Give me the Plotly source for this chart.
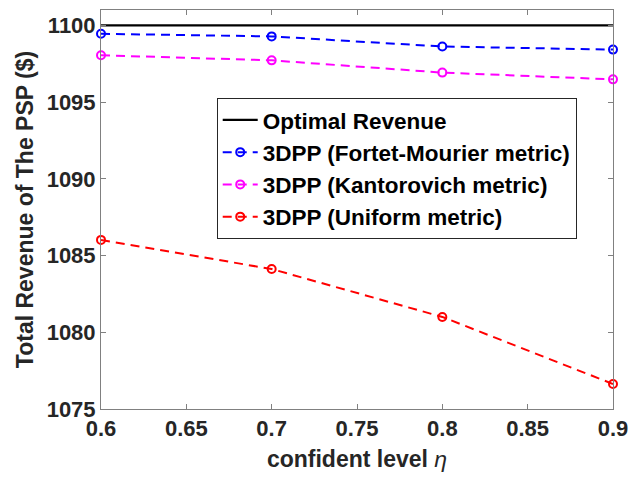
import plotly.graph_objects as go

# Confidence levels and revenue results
eta = [0.6, 0.7, 0.8, 0.9]
optimal_revenue = [1100, 1100, 1100, 1100]
fortet_mourier = [1099.45, 1099.28, 1098.62, 1098.42]
kantorovich = [1098.05, 1097.72, 1096.92, 1096.48]
uniform = [1086.02, 1084.12, 1081.0, 1076.63]

x_ticks = [0.6, 0.65, 0.7, 0.75, 0.8, 0.85, 0.9]
x_tick_text = ["0.6", "0.65", "0.7", "0.75", "0.8", "0.85", "0.9"]
y_ticks = [1075, 1080, 1085, 1090, 1095, 1100]

FONT = "Liberation Sans, Arial, sans-serif"
DASH = "9px,6px"

fig = go.Figure()
fig.add_trace(go.Scatter(
    x=eta, y=optimal_revenue, mode="lines", name="<b>Optimal Revenue</b>",
    line=dict(color="black", width=2.2),
))
series = [
    ("3DPP (Fortet-Mourier metric)", fortet_mourier, "#0000ff"),
    ("3DPP (Kantorovich metric)", kantorovich, "#ff00ff"),
    ("3DPP (Uniform metric)", uniform, "#ff0000"),
]
for name, vals, color in series:
    fig.add_trace(go.Scatter(
        x=eta, y=vals, mode="lines+markers", name=f"<b>{name}</b>",
        line=dict(color=color, width=2, dash=DASH),
        marker=dict(symbol="circle-open", size=8, color=color,
                    line=dict(width=2, color=color)),
        cliponaxis=False,
    ))

axis_common = dict(
    showline=True, linecolor="#808080", linewidth=1, mirror="ticks",
    ticks="inside", ticklen=5, tickcolor="#808080", tickwidth=1,
    showgrid=False, zeroline=False,
    tickfont=dict(family=FONT, size=22, color="#262626", weight="bold"),
)

fig.update_xaxes(
    range=[0.6, 0.9], tickvals=x_ticks, ticktext=x_tick_text,
    title=dict(text="<b>confident level </b><i>η</i>",
               font=dict(family=FONT, size=23, color="#262626"), standoff=10),
    **axis_common,
)
fig.update_yaxes(
    range=[1075, 1101], tickvals=y_ticks,
    title=dict(text="<b>Total Revenue of The PSP ($)</b>",
               font=dict(family=FONT, size=23, color="#262626"), standoff=6),
    **axis_common,
)

fig.update_layout(
    width=637, height=478,
    margin=dict(l=101, r=18, t=9, b=69),
    paper_bgcolor="white", plot_bgcolor="white",
    showlegend=True,
    legend=dict(
        x=0.226, y=0.78, xanchor="left", yanchor="top",
        bgcolor="white", bordercolor="#262626", borderwidth=1,
        font=dict(family=FONT, size=22.5, color="black"),
        tracegroupgap=0, itemwidth=35,
    ),
)

fig.write_html("out.html")
